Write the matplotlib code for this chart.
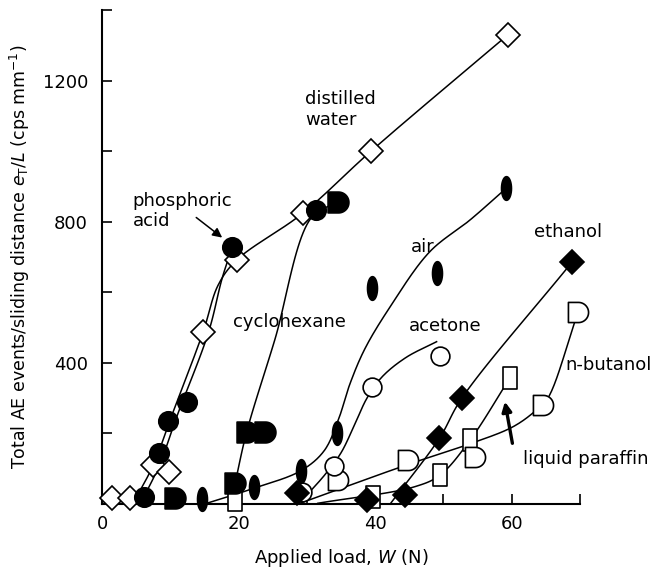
import numpy as np
import matplotlib
matplotlib.use("Agg")
import matplotlib.pyplot as plt
from matplotlib.path import Path

plt.rcParams['font.family'] = ['DejaVu Sans']
plt.rcParams['mathtext.fontset'] = 'dejavusans'

# ---------------- data ----------------
water_x = [1.4, 4.1, 7.5, 9.8, 14.8, 19.7, 29.4, 39.4, 59.4]
water_y = [16, 16, 110, 92, 487, 691, 824, 1000, 1329]
water_line_x = [4.5, 7.5, 10.2, 14.8, 17.0, 19.7, 29.4, 39.4, 59.4]
water_line_y = [0, 110, 250, 487, 620, 691, 824, 1000, 1329]

phos_x = [6.2, 8.3, 9.6, 12.5, 19.1, 31.3]
phos_y = [21, 145, 236, 290, 729, 833]
phos_line_x = [5.6, 8.4, 11.0, 15.6, 17.6, 19.1]
phos_line_y = [0, 110, 250, 487, 640, 729]

cyclo_x = [10.7, 19.5, 21.2, 23.9, 34.5]
cyclo_y = [17, 59, 205, 205, 856]
cyclo_line_x = [19.5, 21.2, 25.3, 30.6, 34.5]
cyclo_line_y = [60, 205, 465, 810, 856]

air_x = [14.6, 22.3, 29.1, 34.4, 39.6, 49.0, 59.2]
air_y = [14, 49, 94, 200, 612, 654, 895]
air_line_x = [15.0, 22.3, 29.1, 32.5, 34.6, 36.3, 38.5, 42.2, 48.0, 53.9, 59.2]
air_line_y = [0, 45, 94, 150, 238, 340, 440, 559, 715, 805, 895]

acetone_x = [29.3, 34.0, 39.5, 49.5]
acetone_y = [35, 108, 332, 419]
acetone_line_x = [29.5, 32.6, 35.0, 37.0, 38.8, 41.0, 44.5, 49.0]
acetone_line_y = [15, 82, 145, 225, 300, 360, 415, 460]

ethanol_x = [28.5, 38.8, 44.3, 49.4, 52.7, 68.9]
ethanol_y = [30, 11, 25, 186, 300, 687]
ethanol_line_x = [42.2, 49.4, 52.7, 68.9]
ethanol_line_y = [0, 186, 300, 687]

nbut_x = [34.6, 44.8, 54.6, 64.6, 69.7]
nbut_y = [68, 125, 134, 280, 544]
nbut_line_x = [29.0, 44.8, 53.5, 60.2, 63.6, 65.3, 69.7]
nbut_line_y = [2, 112, 168, 219, 266, 300, 544]

paraffin_x = [19.5, 39.7, 49.5, 53.9, 59.7]
paraffin_y = [10, 21, 82, 181, 356]
paraffin_line_x = [31.6, 45.8, 49.5, 53.9, 59.7]
paraffin_line_y = [2, 49, 82, 181, 356]

x_major = [0, 20, 40, 60]
x_minor = [10, 30, 50, 70]
y_major = [400, 800, 1200]
y_minor = [200, 600, 1000, 1400]

# ---------------- helpers ----------------
SX, SY = 6.83, 0.3529  # px per data unit, used only for smooth drawing


def smooth(xs, ys, n=24):
    P = np.column_stack([np.asarray(xs, float) * SX, np.asarray(ys, float) * SY])
    if len(P) < 3:
        return np.asarray(xs), np.asarray(ys)
    P = np.vstack([2 * P[0] - P[1], P, 2 * P[-1] - P[-2]])
    out = []
    for i in range(1, len(P) - 2):
        p0, p1, p2, p3 = P[i - 1], P[i], P[i + 1], P[i + 2]

        def tj(ti, a, b):
            return ti + max(np.linalg.norm(b - a), 1e-6) ** 0.5
        t0 = 0.0
        t1 = tj(t0, p0, p1)
        t2 = tj(t1, p1, p2)
        t3 = tj(t2, p2, p3)
        t = np.linspace(t1, t2, n)[:, None]
        A1 = (t1 - t) / (t1 - t0) * p0 + (t - t0) / (t1 - t0) * p1
        A2 = (t2 - t) / (t2 - t1) * p1 + (t - t1) / (t2 - t1) * p2
        A3 = (t3 - t) / (t3 - t2) * p2 + (t - t2) / (t3 - t2) * p3
        B1 = (t2 - t) / (t2 - t0) * A1 + (t - t0) / (t2 - t0) * A2
        B2 = (t3 - t) / (t3 - t1) * A2 + (t - t1) / (t3 - t1) * A3
        C = (t2 - t) / (t2 - t1) * B1 + (t - t1) / (t2 - t1) * B2
        out.append(C if i == len(P) - 3 else C[:-1])
    C = np.vstack(out)
    return C[:, 0] / SX, C[:, 1] / SY


def d_marker():
    th = np.linspace(-np.pi / 2, np.pi / 2, 30)
    verts = [(-0.5, -0.5), (0.0, -0.5)]
    verts += [(0.5 * np.cos(a), 0.5 * np.sin(a)) for a in th[1:-1]]
    verts += [(0.0, 0.5), (-0.5, 0.5), (-0.5, -0.5)]
    codes = [Path.MOVETO] + [Path.LINETO] * (len(verts) - 2) + [Path.CLOSEPOLY]
    return Path(verts, codes)


def ellipse_marker(w=0.42):
    th = np.linspace(0, 2 * np.pi, 40)
    verts = [(w * np.cos(a), np.sin(a)) for a in th]
    codes = [Path.MOVETO] + [Path.LINETO] * (len(verts) - 2) + [Path.CLOSEPOLY]
    return Path(verts, codes)


def rect_marker(w=0.62):
    verts = [(-w, -1), (w, -1), (w, 1), (-w, 1), (-w, -1)]
    codes = [Path.MOVETO, Path.LINETO, Path.LINETO, Path.LINETO, Path.CLOSEPOLY]
    return Path(verts, codes)


DM = d_marker()
EM = ellipse_marker()
RM = rect_marker()

# ---------------- figure ----------------
fig = plt.figure(figsize=(6.66, 5.77), dpi=100)
ax = fig.add_axes([102 / 666, (577 - 504) / 577, 478 / 666, 494 / 577])
ax.set_xlim(0, 70)
ax.set_ylim(0, 1400)

LW = 1.1
for lx, ly in [(water_line_x, water_line_y), (phos_line_x, phos_line_y),
               (cyclo_line_x, cyclo_line_y), (air_line_x, air_line_y),
               (acetone_line_x, acetone_line_y), (ethanol_line_x, ethanol_line_y),
               (nbut_line_x, nbut_line_y), (paraffin_line_x, paraffin_line_y)]:
    sx, sy = smooth(lx, ly)
    ax.plot(sx, sy, color='black', lw=LW, zorder=2, clip_on=False)

mk = dict(linestyle='none', markeredgecolor='black', markeredgewidth=1.2,
          zorder=4, clip_on=False)
ax.plot(paraffin_x, paraffin_y, marker=RM, markersize=16, markerfacecolor='white', **mk)
ax.plot(nbut_x, nbut_y, marker=DM, markersize=14.5, markerfacecolor='white', **mk)
ax.plot(acetone_x, acetone_y, marker='o', markersize=13.5, markerfacecolor='white', **mk)
ax.plot(air_x, air_y, marker=EM, markersize=17, markerfacecolor='black', **mk)
ax.plot(cyclo_x, cyclo_y, marker=DM, markersize=15, markerfacecolor='black', **mk)
ax.plot(ethanol_x, ethanol_y, marker='D', markersize=12.5, markerfacecolor='black', **mk)
ax.plot(water_x, water_y, marker='D', markersize=12.3, markerfacecolor='white', **mk)
ax.plot(phos_x, phos_y, marker='o', markersize=14, markerfacecolor='black', **mk)

# ---------------- axes styling ----------------
for s in ['top', 'right']:
    ax.spines[s].set_visible(False)
for s in ['left', 'bottom']:
    ax.spines[s].set_linewidth(1.5)
ax.set_xticks(x_major)
ax.set_xticks(x_minor, minor=True)
ax.set_yticks(y_major)
ax.set_yticks(y_minor, minor=True)
ax.tick_params(which='both', direction='in', length=7, width=1.2, labelsize=13)
ax.tick_params(axis='x', pad=8)
ax.tick_params(axis='y', pad=10)

ax.set_xlabel(r"Applied load, $W$ (N)", fontsize=13, labelpad=10)
ax.set_ylabel(r"Total AE events/sliding distance $e_{\rm T}/L$ (cps mm$^{-1}$)",
              fontsize=12.5, labelpad=8)

# ---------------- annotations ----------------
tk = dict(fontsize=13, color='black')
ax.text(29.7, 1118, "distilled\nwater", ha='left', va='center', linespacing=1.15, **tk)
ax.text(4.5, 830, "phosphoric\nacid", ha='left', va='center', linespacing=1.15, **tk)
ax.text(27.5, 517, "cyclohexane", ha='center', va='center', **tk)
ax.text(47.0, 727, "air", ha='center', va='center', **tk)
ax.text(50.2, 504, "acetone", ha='center', va='center', **tk)
ax.text(68.3, 771, "ethanol", ha='center', va='center', **tk)
ax.text(67.8, 394, "n-butanol", ha='left', va='center', clip_on=False, **tk)
ax.text(70.9, 128, "liquid paraffin", ha='center', va='center', clip_on=False, **tk)

ax.annotate("", xy=(17.6, 755), xytext=(13.8, 812),
            arrowprops=dict(arrowstyle='-|>', color='black', lw=1.1,
                            mutation_scale=14, shrinkA=0, shrinkB=0))
ax.annotate("", xy=(59.0, 290), xytext=(60.1, 172),
            arrowprops=dict(arrowstyle='-|>', color='black', lw=2.4,
                            mutation_scale=14, shrinkA=0, shrinkB=0))

fig.savefig("out.png", dpi=100)
